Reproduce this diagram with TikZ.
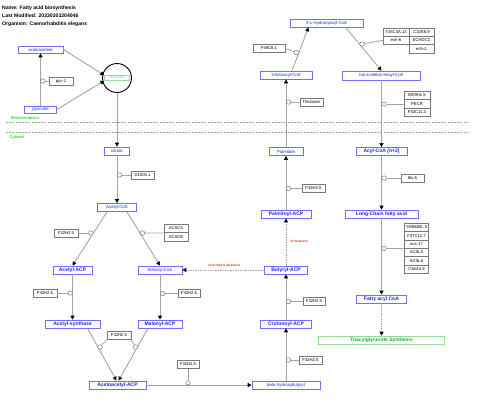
\documentclass[tikz,border=0pt]{standalone}
\usepackage{fontspec}
\setmainfont{Liberation Sans}
\usetikzlibrary{arrows.meta}
\definecolor{mb}{RGB}{110,110,255}
\definecolor{mt}{RGB}{30,30,230}
\definecolor{gb}{RGB}{120,120,120}
\definecolor{cl}{RGB}{165,165,165}
\definecolor{gr}{RGB}{40,220,40}
\definecolor{tg}{RGB}{150,220,150}
\definecolor{tgt}{RGB}{40,170,40}
\definecolor{rd}{RGB}{240,40,40}
\tikzset{
 met/.style={draw=mb, line width=0.7pt, fill=white, inner sep=0pt, minimum height=8pt, text=mt, font=\fontsize{4.3}{5}\selectfont},
 metb/.style={met, font=\fontsize{5}{6}\selectfont\bfseries},
 gene/.style={draw=gb, line width=0.6pt, fill=white, inner sep=0pt, minimum height=8pt, font=\fontsize{4.2}{5}\selectfont},
 conv/.style={draw=cl, line width=0.9pt, -{Triangle[color=black,length=4pt,width=4pt]}},
 dconv/.style={conv, dash pattern=on 1.5pt off 1pt},
 catl/.style={draw=cl, line width=0.8pt},
 catc/.style={circle, draw=gb, line width=0.5pt, fill=white, minimum size=4.5pt, inner sep=0pt},
 ttl/.style={anchor=west, inner sep=0pt, font=\fontsize{5.1}{6}\selectfont\bfseries},
 cmp/.style={anchor=west, inner sep=0pt, text=gr, font=\fontsize{4}{5}\selectfont\bfseries},
 redl/.style={inner sep=0pt, text=rd, font=\fontsize{3.2}{4}\selectfont\bfseries},
 cmpline/.style={draw=cl, line width=0.6pt, dash pattern=on 2pt off 1.2pt},
}
\begin{document}
\begin{tikzpicture}[x=1pt,y=-1pt]
\useasboundingbox (0,0) rectangle (480,402);
\fill[white] (0,0) rectangle (480,402);
% title
\node[ttl] (t1) at (2,8) {Name: Fatty acid biosynthesis};
\node[ttl] (t2) at (2,16) {Last Modified: 20230203204046};
\node[ttl] (t3) at (2,24) {Organism: Caenorhabditis elegans};
% compartments
\coordinate (m1) at (6,122.5); \coordinate (m2) at (467,122.5);
\coordinate (c1) at (6,132.5); \coordinate (c2) at (467,132.5);
\draw[cmpline] (m1) -- (m2);
\draw[cmpline] (c1) -- (c2);
\node[cmp] (mito) at (11,118) {Mitochondrion};
\node[cmp] (cyto) at (9.5,137.5) {Cytosol};
% left part
\node[circle, draw=black, line width=0.9pt, minimum size=29pt, inner sep=0pt] (tca) at (117,78) {};
\node[draw=tg, line width=0.5pt, fill=white, text=gr, inner sep=0pt, minimum width=25pt, minimum height=5pt, font=\fontsize{3.3}{4}\selectfont] (tcal) at (117,78) {TCA Cycle};
\node[met, minimum width=45pt, minimum height=7pt] (oxa) at (40.5,49.5) {oxaloacetate};
\node[met, minimum width=32pt, minimum height=7pt] (pyr) at (40.5,109.5) {pyruvate};
\node[gene, minimum width=24pt] (pyc) at (61,81) {pyc-1};
\node[met, minimum width=25pt] (cit) at (117,151) {citrate};
\node[gene, minimum width=23pt] (d1005) at (142.5,175) {D1005.1};
\node[met, minimum width=39pt] (acoa) at (117,207.5) {Acetyl-CoA};
\node[gene, minimum width=24pt] (g1) at (66,233) {F32H2.5};
\node[gene, minimum width=24pt, minimum height=8.5pt] (acaca) at (176,228.5) {ACACA};
\node[gene, minimum width=24pt, minimum height=8.5pt] (acacb) at (176,237) {ACACB};
\node[metb, minimum width=39pt] (aacp) at (72.5,270) {Acetyl-ACP};
\node[met, minimum width=44pt] (mcoa) at (160,270) {Malonyl-CoA};
\node[metb, minimum width=43pt] (bacp) at (286,270) {Butyryl-ACP};
\node[gene, minimum width=24pt] (g2) at (45,293) {F32H2.5};
\node[gene, minimum width=22pt] (g3) at (189,293.5) {F32H2.5};
\node[metb, minimum width=55pt] (asyn) at (72.5,324) {Acetyl-synthase};
\node[metb, minimum width=44pt] (macp) at (160,324) {Malonyl-ACP};
\node[gene, minimum width=24pt] (g4) at (119,335.5) {F32H2.5};
\node[metb, minimum width=57pt] (aaacp) at (117.5,385) {Acetoacetyl-ACP};
\node[gene, minimum width=22pt] (g5) at (188,364.5) {F32H2.5};
\node[met, minimum width=68pt] (bhb) at (286,385) {beta-hydroxybutyryl};
% middle column
\node[metb, minimum width=51pt] (cacp) at (286,324) {Crotonoyl-ACP};
\node[gene, minimum width=23pt] (g6) at (310.5,360) {F32H2.5};
\node[gene, minimum width=22pt] (g7) at (314,301.5) {F32H2.5};
\node[metb, minimum width=50pt] (pacp) at (286,214) {Palmitoyl-ACP};
\node[gene, minimum width=23pt] (g8) at (313.5,188.5) {F32H2.5};
\node[met, minimum width=34pt] (palm) at (286,151.5) {Palmitate};
\node[gene, minimum width=23pt] (thio) at (311.5,102) {Thiolases};
\node[met, minimum width=52pt] (keto) at (286,75) {3-ketoacyl-CoA};
\node[gene, minimum width=32pt, minimum height=7.5pt] (f58) at (269,48.5) {F58C6.1};
\node[met, minimum width=73pt] (hyd) at (326.5,23) {3-L-Hydroxyacyl-CoA};
% right column
\node[met, minimum width=78pt, minimum height=9pt] (trans) at (381.5,75.5) {trans-delta2-enoyl-CoA};
\node[gene, minimum width=26pt, minimum height=8.4pt] (y25) at (396,32) {Y25C3A.13};
\node[gene, minimum width=26pt, minimum height=8.4pt] (ech6) at (396,40.4) {ech-6};
\node[gene, minimum width=25pt, minimum height=8.4pt] (c32) at (421.5,32) {C32E8.9};
\node[gene, minimum width=25pt, minimum height=8.4pt] (echdc) at (421.5,40.4) {ECHDC2};
\node[gene, minimum width=25pt, minimum height=8.4pt] (ech2) at (421.5,48.8) {ech-2};
\node[gene, minimum width=26pt, minimum height=8.5pt] (w09) at (417,95.5) {W09H1.5};
\node[gene, minimum width=26pt, minimum height=8.5pt] (pecr) at (417,104) {PECR};
\node[gene, minimum width=26pt, minimum height=8.5pt] (f53) at (417,112.5) {F53C11.3};
\node[metb, minimum width=51pt] (acyl) at (381.5,151.5) {Acyl-CoA (n+2)};
\node[gene, minimum width=23pt] (lbs) at (412.5,178) {lbs-5};
\node[metb, minimum width=73pt] (lcfa) at (381.5,214) {Long-Chain fatty acid};
\node[gene, minimum width=24.5pt, minimum height=8.33pt] (y65) at (416.5,227.5) {Y65B4BL.5};
\node[gene, minimum width=24.5pt, minimum height=8.33pt] (f37) at (416.5,235.8) {F37C12.7};
\node[gene, minimum width=24.5pt, minimum height=8.33pt] (acs17) at (416.5,244.2) {acs-17};
\node[gene, minimum width=24.5pt, minimum height=8.33pt] (acsl5) at (416.5,252.5) {ACSL5};
\node[gene, minimum width=24.5pt, minimum height=8.33pt] (acsl6) at (416.5,260.8) {ACSL6};
\node[gene, minimum width=24.5pt, minimum height=8.33pt] (c36) at (416.5,269.2) {C36A4.9};
\node[metb, minimum width=50pt] (faco) at (381.5,299) {Fatty acyl CoA};
\node[draw=tg, line width=0.7pt, fill=white, text=tgt, inner sep=0pt, minimum width=126pt, minimum height=8pt, font=\fontsize{5}{6}\selectfont\bfseries] (tag) at (381.5,340) {Triacylglyceride Synthesis};
% red labels
\node[redl] (lab1) at (224.5,265) {less than 6 iterations};
\node[redl] (lab2) at (299.5,241) {6 iterations};
% conversions
\draw[conv] (pyr) -- (oxa);
\draw[conv] (oxa.east) -- (tcal.north west);
\draw[conv] (pyr.east) -- (tcal.south west);
\draw[conv] (tca) -- (cit);
\draw[conv] (cit) -- (acoa);
\draw[conv] ([xshift=-10pt]acoa.south) -- (aacp.north);
\draw[conv] ([xshift=10pt]acoa.south) -- (mcoa.north);
\draw[dconv] (bacp) -- (mcoa);
\draw[dconv] (bacp) -- (pacp);
\draw[conv] (aacp) -- (asyn);
\draw[conv] (mcoa) -- (macp);
\draw[conv] ([xshift=15pt]asyn.south) -- ([xshift=-1pt]aaacp.north);
\draw[conv] ([xshift=-12pt]macp.south) -- ([xshift=1pt]aaacp.north);
\draw[conv] (aaacp) -- (bhb);
\draw[conv] (bhb) -- (cacp);
\draw[conv] (cacp) -- (bacp);
\draw[conv] (pacp) -- (palm);
\draw[conv] (palm) -- (keto);
\draw[conv] ([xshift=6pt]keto.north) -- ([xshift=-18pt]hyd.south);
\draw[conv] ([xshift=19pt]hyd.south) -- (trans.north);
\draw[conv] (trans) -- (acyl);
\draw[conv] (acyl) -- (lcfa);
\draw[conv] (lcfa) -- (faco);
\draw[dconv] (faco) -- (tag);
% catalysis
\node[catc] (k1) at (42.8,81) {};
\draw[catl] (pyc) -- (k1);
\node[catc] (k2) at (119.5,175) {};
\draw[catl] (d1005) -- (k2);
\node[catc] (k3) at (91,233) {};
\draw[catl] (g1) -- (k3);
\node[catc] (k4) at (142.5,233) {};
\draw[catl] (k4) -- (acaca.south west);
\node[catc] (k5) at (70.3,293) {};
\draw[catl] (g2) -- (k5);
\node[catc] (k6) at (162.5,293.5) {};
\draw[catl] (g3) -- (k6);
\node[catc] (k7) at (100,347) {};
\draw[catl] (k7) -- (g4.south west);
\node[catc] (k8) at (135.5,347) {};
\draw[catl] (k8) -- (g4.south east);
\node[catc] (k9) at (188,382.8) {};
\draw[catl] (g5) -- (k9);
\node[catc] (k10) at (288.5,360) {};
\draw[catl] (g6) -- (k10);
\node[catc] (k11) at (288.5,301.5) {};
\draw[catl] (g7) -- (k11);
\node[catc] (k12) at (288.5,188.5) {};
\draw[catl] (g8) -- (k12);
\node[catc] (k13) at (288.5,102) {};
\draw[catl] (thio) -- (k13);
\node[catc] (k14) at (296.5,52.5) {};
\draw[catl] (f58.east) -- (k14);
\node[catc] (k15) at (362,44) {};
\draw[catl] (k15) -- (ech6.west);
\node[catc] (k16) at (384,104) {};
\draw[catl] (k16) -- (pecr.west);
\node[catc] (k17) at (384,178) {};
\draw[catl] (k17) -- (lbs.west);
\node[catc] (k18) at (384,248.4) {};
\draw[catl] (k18) -- (acs17.south west);
\end{tikzpicture}
\end{document}
